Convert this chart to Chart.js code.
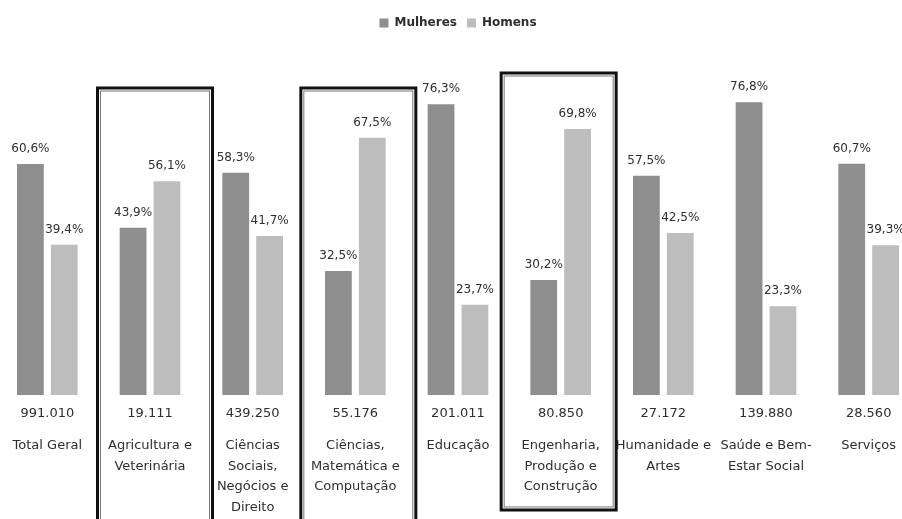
<!DOCTYPE html>
<html>
<head>
<meta charset="utf-8">
<script src="https://cdn.jsdelivr.net/npm/chart.js@4/dist/chart.umd.min.js"></script>
<style>
  body { margin: 0; background: #fff; overflow: hidden; }
  #wrap { position: absolute; left: -4px; top: 0; width: 924px; height: 519px; }
</style>
</head>
<body>
<div id="wrap"><canvas id="chart"></canvas></div>
<script>
// categories, totals and shares (%)
const categories = [
  ["Total Geral"],
  ["Agricultura e", "Veterinária"],
  ["Ciências", "Sociais,", "Negócios e", "Direito"],
  ["Ciências,", "Matemática e", "Computação"],
  ["Educação"],
  ["Engenharia,", "Produção e", "Construção"],
  ["Humanidade e", "Artes"],
  ["Saúde e Bem-", "Estar Social"],
  ["Serviços"]
];
const totals = ["991.010", "19.111", "439.250", "55.176", "201.011", "80.850", "27.172", "139.880", "28.560"];
const mulheres = [60.6, 43.9, 58.3, 32.5, 76.3, 30.2, 57.5, 76.8, 60.7];
const homens = [39.4, 56.1, 41.7, 67.5, 23.7, 69.8, 42.5, 23.3, 39.3];
const highlighted = [1, 3, 5];

const textColor = "#2e2e2e";
const font = "DejaVu Sans";

const labelsPlugin = {
  id: "labels",
  afterDatasetsDraw(chart) {
    const ctx = chart.ctx;
    ctx.save();
    ctx.fillStyle = textColor;
    ctx.textAlign = "center";
    ctx.textBaseline = "bottom";
    ctx.font = "12px '" + font + "'";
    chart.data.datasets.forEach((ds, di) => {
      chart.getDatasetMeta(di).data.forEach((bar, i) => {
        const txt = ds.data[i].toFixed(1).replace(".", ",") + "%";
        ctx.fillText(txt, bar.x, bar.y - 9);
      });
    });

    // totals and category names under the bars
    const x = chart.scales.x;
    const bottom = chart.chartArea.bottom;
    ctx.textBaseline = "middle";
    ctx.font = "13px '" + font + "'";
    categories.forEach((lines, i) => {
      const cx = x.getPixelForValue(i);
      ctx.fillText(totals[i], cx, bottom + 19);
      lines.forEach((line, j) => {
        ctx.fillText(line, cx, bottom + 51 + j * 20.5);
      });
    });

    // double-line boxes around highlighted areas
    const boxes = { 1: [5, 88, 530], 3: [3, 88, 530], 5: [-2, 73, 510] };
    highlighted.forEach((i) => {
      const [dx, t, b] = boxes[i];
      const cx = x.getPixelForValue(i) + dx;
      const l = cx - 57.5, r = cx + 57.5;
      ctx.strokeStyle = "#111";
      ctx.lineWidth = 3;
      ctx.strokeRect(l, t, r - l, b - t);
      ctx.strokeStyle = "#777";
      ctx.lineWidth = 1;
      ctx.strokeRect(l + 3, t + 3, r - l - 6, b - t - 6);
    });
    ctx.restore();
  }
};

new Chart(document.getElementById("chart"), {
  type: "bar",
  data: {
    labels: categories.map((c) => c.join(" ")),
    datasets: [
      {
        label: "Mulheres",
        data: mulheres,
        backgroundColor: "#8e8e8e",
        categoryPercentage: 0.66,
        barPercentage: 0.79,
      },
      {
        label: "Homens",
        data: homens,
        backgroundColor: "#bdbdbd",
        categoryPercentage: 0.66,
        barPercentage: 0.79,
      },
    ],
  },
  options: {
    responsive: true,
    maintainAspectRatio: false,
    animation: false,
    layout: { padding: { top: 7, bottom: 124, left: 0, right: 0 } },
    scales: {
      x: { display: false },
      y: { display: false, min: 0, max: 93.4 },
    },
    plugins: {
      tooltip: { enabled: false },
      legend: {
        position: "top",
        labels: {
          color: textColor,
          boxWidth: 9,
          boxHeight: 9,
          padding: 10,
          font: { family: font, size: 12, weight: "bold" },
        },
      },
    },
  },
  plugins: [labelsPlugin],
});
</script>
</body>
</html>
